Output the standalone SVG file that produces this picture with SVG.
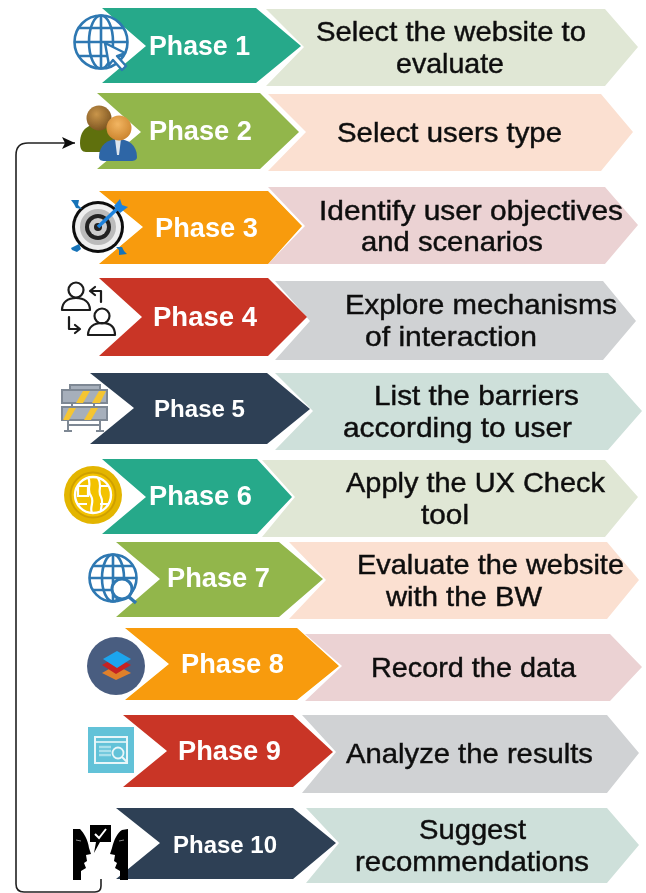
<svg xmlns="http://www.w3.org/2000/svg" width="646" height="893" viewBox="0 0 646 893">
<style>
text{font-family:"Liberation Sans",Arial,sans-serif}
.ph{font-size:27px;font-weight:700;fill:#fff}
.lb{font-size:28px;fill:#111;stroke:#111;stroke-width:.45}
.teal{fill:#25A98A}.green{fill:#92B64C}.orange{fill:#F89B07}.red{fill:#C93525}.navy{fill:#2E4155}
.l1{fill:#E0E7D5}.l2{fill:#FBE0D1}.l3{fill:#EBD2D3}.l4{fill:#D0D2D4}.l5{fill:#CEE0DA}
.gl{fill:none;stroke:#2E78B2;stroke-width:2.6}
.bk{fill:none;stroke:#1a1a1a;stroke-width:2.2;stroke-linejoin:round;stroke-linecap:round}
</style>
<defs>
<filter id="soft" filterUnits="userSpaceOnUse" x="0" y="0" width="646" height="893"><feGaussianBlur stdDeviation="0.45"/></filter>
<marker id="ah" markerWidth="14" markerHeight="12" refX="13" refY="6" orient="auto" markerUnits="userSpaceOnUse"><path d="M0 0L13 6L0 12L3 6Z" fill="#111"/></marker>
<radialGradient id="brn" cx=".4" cy=".35" r=".7"><stop offset="0" stop-color="#C9954A"/><stop offset="1" stop-color="#7A5320"/></radialGradient>
<radialGradient id="org" cx=".45" cy=".35" r=".7"><stop offset="0" stop-color="#F2B562"/><stop offset="1" stop-color="#C9812A"/></radialGradient>
</defs>
<rect width="646" height="893" fill="#fff"/>
<g filter="url(#soft)">
<g id="connectors">
<path d="M101 879V886Q101 892 95 892H24Q16 892 16 884V155Q16 143 28 143H75" fill="none" stroke="#222" stroke-width="1.6" marker-end="url(#ah)"/>
</g>
<g id="phase1">
<polygon class="l1" points="266,9 605,9 638,47 605,86 266,86 304,47"/>
<polygon class="teal" points="102,8 256,8 301,46 256,83 102,83 146,46"/>
<g><circle class="gl" cx="101" cy="42" r="26.5"/><ellipse class="gl" cx="101" cy="42" rx="12" ry="26.5"/><path class="gl" d="M75 42H127M79 28H123M79 56H123M101 16V68"/>
<path d="M105 43L125 53L117 56L126 66L122 70L113 60L109 65Z" fill="#fff" stroke="#2E78B2" stroke-width="2.4" stroke-linejoin="round"/></g>
<text class="ph" x="149" y="55" textLength="101" lengthAdjust="spacingAndGlyphs">Phase 1</text>
<text class="lb" x="316" y="41" textLength="270" lengthAdjust="spacingAndGlyphs">Select the website to</text>
<text class="lb" x="396" y="73" textLength="108" lengthAdjust="spacingAndGlyphs">evaluate</text>
</g>
<g id="phase2">
<polygon class="l2" points="268,94 601,94 633,132 601,171 268,171 306,132"/>
<polygon class="green" points="97,93 260,93 299,132 260,169 97,169 141,132"/>
<g><path d="M80 143C80 128 90 124 99 124C108 124 118 128 118 143V152H86C82 152 80 149 80 143Z" fill="#5F700F"/>
<circle cx="99" cy="118" r="12.5" fill="url(#brn)"/>
<path d="M99 157C99 145 108 139 118 139C128 139 137 145 137 157C137 160 134 161 131 161H105C101 161 99 160 99 157Z" fill="#2F66A6"/>
<path d="M115 139H121L119 155H117Z" fill="#DDE5EE"/>
<circle cx="119" cy="128" r="12.5" fill="url(#org)"/></g>
<text class="ph" x="149" y="140" textLength="103" lengthAdjust="spacingAndGlyphs">Phase 2</text>
<text class="lb" x="337" y="142" textLength="225" lengthAdjust="spacingAndGlyphs">Select users type</text>
</g>
<g id="phase3">
<polygon class="l3" points="268,187 605,187 638,225 605,264 268,264 305,226"/>
<polygon class="orange" points="99,191 268,191 302,226 268,264 99,264 143,227"/>
<g><circle cx="98" cy="227" r="26" fill="#111"/><circle cx="98" cy="227" r="23" fill="#eee"/><circle cx="98" cy="227" r="18" fill="#bbb"/><circle cx="98" cy="227" r="13" fill="#222"/><circle cx="98" cy="227" r="9" fill="#ccc"/><circle cx="98" cy="227" r="4" fill="#222"/>
<path d="M98 227L119 207" stroke="#1E82DC" stroke-width="3.6" fill="none"/>
<path d="M114 206L120 199L122 205L128 207L120 213Z" fill="#1E82DC"/>
<path d="M71 200L79 200L78 205L82 209L76 208L74 204Z" fill="#1673B8"/>
<path d="M71 248L79 244L81 249L77 252L72 250Z" fill="#1673B8"/>
<path d="M127 254L119 255L119 250L116 247L122 247L124 251Z" fill="#1673B8"/></g>
<text class="ph" x="155" y="237" textLength="103" lengthAdjust="spacingAndGlyphs">Phase 3</text>
<text class="lb" x="319" y="220" textLength="304" lengthAdjust="spacingAndGlyphs">Identify user objectives</text>
<text class="lb" x="361" y="251" textLength="182" lengthAdjust="spacingAndGlyphs">and scenarios</text>
</g>
<g id="phase4">
<polygon class="l4" points="275,281 603,281 636,321 603,360 275,360 310,321"/>
<polygon class="red" points="99,278 268,278 307,317 268,356 99,356 142,317"/>
<g class="bk"><circle cx="76" cy="290" r="7.5"/><path d="M62 310C62 302 68 298 76 298C84 298 90 302 90 310Z"/>
<circle cx="102" cy="316" r="7.5"/><path d="M88 335C88 327 94 323 102 323C110 323 115 327 115 335Z"/>
<path d="M101 302V291H91M95 287L90 291L95 295"/><path d="M69 317V329H79M75 325L80 329L75 333"/></g>
<text class="ph" x="153" y="326" textLength="104" lengthAdjust="spacingAndGlyphs">Phase 4</text>
<text class="lb" x="345" y="314" textLength="272" lengthAdjust="spacingAndGlyphs">Explore mechanisms</text>
<text class="lb" x="365" y="346" textLength="172" lengthAdjust="spacingAndGlyphs">of interaction</text>
</g>
<g id="phase5">
<polygon class="l5" points="275,373 608,373 642,411 608,450 275,450 313,411"/>
<polygon class="navy" points="90,373 267,373 310,409 267,444 90,444 134,408"/>
<g stroke="#7E8894" stroke-width="2"><rect x="70" y="385" width="30" height="5" fill="#A6AFBB"/>
<rect x="62" y="390" width="45" height="13" fill="#A6AFBB"/>
<path d="M76 403L83 391H90L83 403ZM92 403L99 391H106L100 403Z" fill="#F5C531" stroke="none"/>
<rect x="62" y="407" width="45" height="13" fill="#A6AFBB"/>
<path d="M63 420L69 408H76L69 420ZM84 420L91 408H98L91 420Z" fill="#F5C531" stroke="none"/>
<path d="M72 403V407M94 403V407" fill="none"/>
<path d="M68 420V431M100 420V431M64 431H72M96 431H104M68 425H100" fill="none"/></g>
<text class="ph" x="154" y="417" textLength="91" lengthAdjust="spacingAndGlyphs" style="font-size:24px">Phase 5</text>
<text class="lb" x="374" y="405" textLength="205" lengthAdjust="spacingAndGlyphs">List the barriers</text>
<text class="lb" x="343" y="437" textLength="229" lengthAdjust="spacingAndGlyphs">according to user</text>
</g>
<g id="phase6">
<polygon class="l1" points="262,460 605,460 638,497 605,537 262,537 295,497"/>
<polygon class="teal" points="102,459 257,459 292,497 257,534 102,534 146,497"/>
<g><circle cx="93" cy="495" r="29" fill="#E3B505"/><circle cx="93" cy="495" r="22.5" fill="#F3C200" stroke="#CFA000" stroke-width="2"/>
<circle cx="93" cy="495" r="18" fill="none" stroke="#fff" stroke-width="2.4"/>
<path d="M78 486H88V496H78ZM99 486H108M78 504H87M100 504H108M88 477C92 485 86 490 91 496C95 502 89 507 92 513M98 478C103 486 97 491 101 497C104 503 100 508 101 512" fill="none" stroke="#fff" stroke-width="2.2"/></g>
<text class="ph" x="149" y="505" textLength="103" lengthAdjust="spacingAndGlyphs">Phase 6</text>
<text class="lb" x="346" y="492" textLength="259" lengthAdjust="spacingAndGlyphs">Apply the UX Check</text>
<text class="lb" x="421" y="524" textLength="48" lengthAdjust="spacingAndGlyphs">tool</text>
</g>
<g id="phase7">
<polygon class="l2" points="289,542 607,542 639,580 607,619 289,619 326,580"/>
<polygon class="green" points="116,542 279,542 323,579 279,617 116,617 160,579"/>
<g><circle class="gl" cx="113" cy="578" r="23.5"/><ellipse class="gl" cx="113" cy="578" rx="11" ry="23.5"/><path class="gl" d="M90 578H136M93 566H133M93 590H133M113 555V601"/>
<circle cx="122" cy="589" r="10" fill="#fff" stroke="#2E78B2" stroke-width="3"/><path d="M129 597L136 603" stroke="#2E78B2" stroke-width="3.4" fill="none"/></g>
<text class="ph" x="167" y="587" textLength="103" lengthAdjust="spacingAndGlyphs">Phase 7</text>
<text class="lb" x="357" y="574" textLength="267" lengthAdjust="spacingAndGlyphs">Evaluate the website</text>
<text class="lb" x="386" y="606" textLength="156" lengthAdjust="spacingAndGlyphs">with the BW</text>
</g>
<g id="phase8">
<polygon class="l3" points="305,634 610,634 642,667 610,701 305,701 342,666"/>
<polygon class="orange" points="125,628 297,628 339,666 297,700 125,700 169,664"/>
<g><circle cx="116" cy="666" r="29" fill="#4A5D80"/>
<polygon points="102,673 116,665 131,673 116,680" fill="#E0802B"/>
<polygon points="102,665 116,657 131,665 116,674" fill="#C62222"/>
<polygon points="103,659 117,651 131,659 117,668" fill="#1FA5EE"/></g>
<text class="ph" x="181" y="673" textLength="103" lengthAdjust="spacingAndGlyphs">Phase 8</text>
<text class="lb" x="371" y="677" textLength="205" lengthAdjust="spacingAndGlyphs">Record the data</text>
</g>
<g id="phase9">
<polygon class="l4" points="302,715 607,715 639,753 607,793 302,793 336,752"/>
<polygon class="red" points="123,715 293,715 333,752 293,787 123,787 167,751"/>
<g><rect x="88" y="727" width="46" height="46" fill="#62C2D8"/>
<rect x="95" y="737" width="32" height="26" fill="none" stroke="#E8F6F9" stroke-width="2"/>
<path d="M95 742H127" stroke="#E8F6F9" stroke-width="1.6"/>
<path d="M99 747H111M99 751H111M99 755H111" stroke="#A9E0EB" stroke-width="2.4"/>
<circle cx="118" cy="753" r="5.5" fill="none" stroke="#E8F6F9" stroke-width="1.8"/><path d="M122 757L127 762" stroke="#E8F6F9" stroke-width="2"/></g>
<text class="ph" x="178" y="760" textLength="103" lengthAdjust="spacingAndGlyphs">Phase 9</text>
<text class="lb" x="346" y="763" textLength="247" lengthAdjust="spacingAndGlyphs">Analyze the results</text>
</g>
<g id="phase10">
<polygon class="l5" points="306,808 607,808 639,845 607,883 306,883 339,843"/>
<polygon class="navy" points="116,808 293,808 336,843 293,879 116,879 160,843"/>
<g><path d="M73 829L80 829C84 833 88 840 89 848L91 854L86 855L87 861L84 863L86 868L81 871L81 880H73Z" fill="#000"/>
<path d="M128 829L122 830C117 833 114 840 112 848L110 854L115 855L114 861L117 863L115 868L120 871L120 880H128Z" fill="#000"/>
<path d="M90 825H111V842H100L94 853L96 842H90Z" fill="#000"/>
<path d="M95 834L99 838L106 829" fill="none" stroke="#fff" stroke-width="2"/>
<path d="M76 840L81 841M124 840L119 841" stroke="#888" stroke-width="1" fill="none"/></g>
<text class="ph" x="173" y="853" textLength="104" lengthAdjust="spacingAndGlyphs" style="font-size:24px">Phase 10</text>
<text class="lb" x="419" y="839" textLength="107" lengthAdjust="spacingAndGlyphs">Suggest</text>
<text class="lb" x="355" y="871" textLength="234" lengthAdjust="spacingAndGlyphs">recommendations</text>
</g>
</g>
</svg>
